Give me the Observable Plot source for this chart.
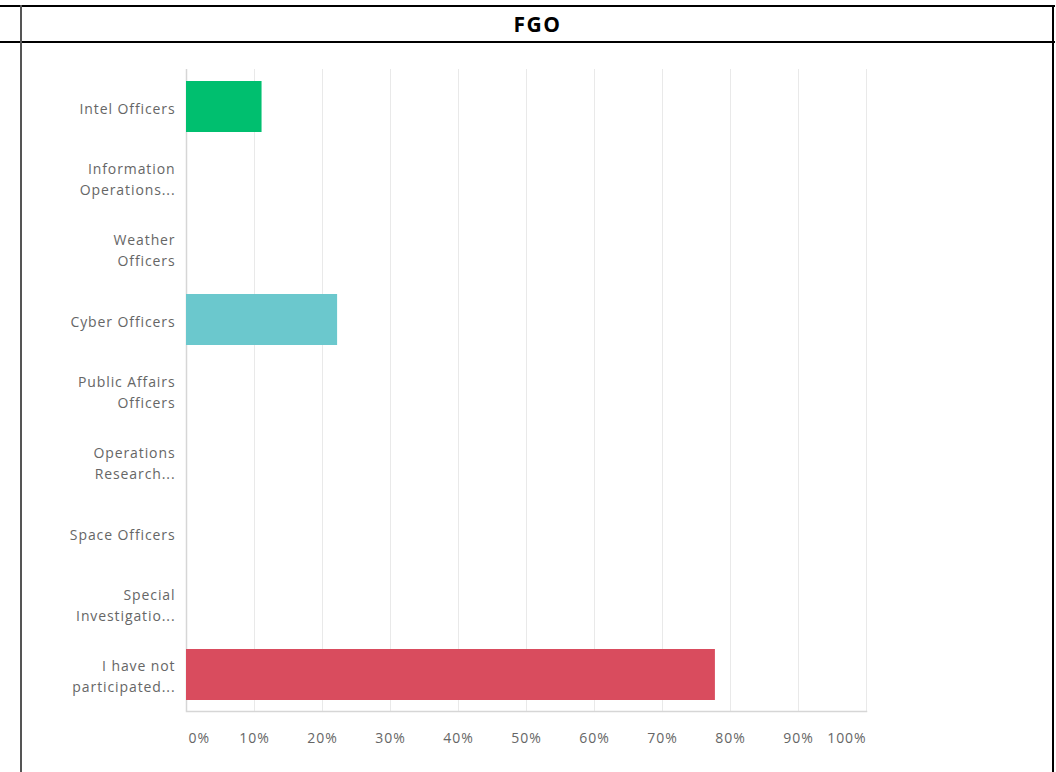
<!DOCTYPE html>
<html>
<head>
<meta charset="utf-8">
<script src="https://cdn.jsdelivr.net/npm/d3@7"></script>
<script src="https://cdn.jsdelivr.net/npm/@observablehq/plot@0.6"></script>
<style>
  html, body { margin: 0; padding: 0; background: #fff; }
  #page { position: relative; width: 1056px; height: 772px; overflow: hidden; background: #fff; }
  .hline { position: absolute; left: 0; width: 1055px; height: 2px; background: #000; }
  .vline { position: absolute; width: 2px; background: #000; }
  #title { position: absolute; left: 22px; width: 1031px; top: 7px; height: 34px; line-height: 34px;
           text-align: center; font-family: "Open Sans", "Liberation Sans", sans-serif; font-weight: 700; font-size: 21px; letter-spacing: 1.5px; color: #000; }
  #chart { position: absolute; left: 0; top: 44px; }
  #chart svg text { letter-spacing: 0.9px; }
</style>
</head>
<body>
<div id="page">
  <div class="hline" style="top:5px"></div>
  <div class="hline" style="top:41px"></div>
  <div class="vline" style="left:20px; top:5px; height:767px; background:#555"></div>
  <div class="vline" style="left:1052px; top:5px; height:767px"></div>
  <div id="title">FGO</div>
  <div id="chart"></div>
</div>
<script>
const categories = [
  "Intel Officers",
  "Information\nOperations...",
  "Weather\nOfficers",
  "Cyber Officers",
  "Public Affairs\nOfficers",
  "Operations\nResearch...",
  "Space Officers",
  "Special\nInvestigatio...",
  "I have not\nparticipated..."
];
const values = [0.1111, 0, 0, 0.2222, 0, 0, 0, 0, 0.7778];
const colors = ["#00bf6f", "#507cb6", "#f9be00", "#6bc8cd", "#ff8b4f", "#7d5a94", "#d25f90", "#a3b35c", "#d94c5e"];
const xTicks = [0, 0.1, 0.2, 0.3, 0.4, 0.5, 0.6, 0.7, 0.8, 0.9, 1];

const data = categories.map((c, i) => ({category: c, value: values[i], color: colors[i]}));
const fmt = d => Math.round(d * 100) + "%";
const font = "'Open Sans', 'DejaVu Sans', sans-serif";
const txt = "#666666";

const chart = Plot.plot({
  width: 1056,
  height: 728,
  marginTop: 25,
  marginBottom: 61,
  marginLeft: 186,
  marginRight: 190,
  style: {fontFamily: font, background: "transparent"},
  x: {domain: [0, 1]},
  y: {domain: categories, paddingInner: 0.285, paddingOuter: 0.1425},
  color: {type: "identity"},
  marks: [
    Plot.gridX(xTicks.slice(1), {stroke: "#e9e9e9", strokeOpacity: 1}),
    Plot.ruleX([0], {stroke: "#d6d6d6", strokeWidth: 1.5}),
    Plot.frame({anchor: "bottom", stroke: "#d6d6d6", strokeWidth: 1.5}),
    Plot.barX(data, {x: "value", y: "category", fill: "color"}),
    Plot.axisY({tickSize: 0, tickPadding: 11, fontSize: 14, lineHeight: 1.5, fill: txt, label: null}),
    Plot.axisX(xTicks.slice(1, -1), {tickSize: 0, tickPadding: 22, fontSize: 14, fill: txt, tickFormat: fmt, label: null}),
    Plot.axisX([0], {tickSize: 0, tickPadding: 22, fontSize: 14, fill: txt, tickFormat: fmt, textAnchor: "start", dx: 2, label: null}),
    Plot.axisX([1], {tickSize: 0, tickPadding: 22, fontSize: 14, fill: txt, tickFormat: fmt, textAnchor: "end", label: null})
  ]
});
document.getElementById("chart").appendChild(chart);
</script>
</body>
</html>
